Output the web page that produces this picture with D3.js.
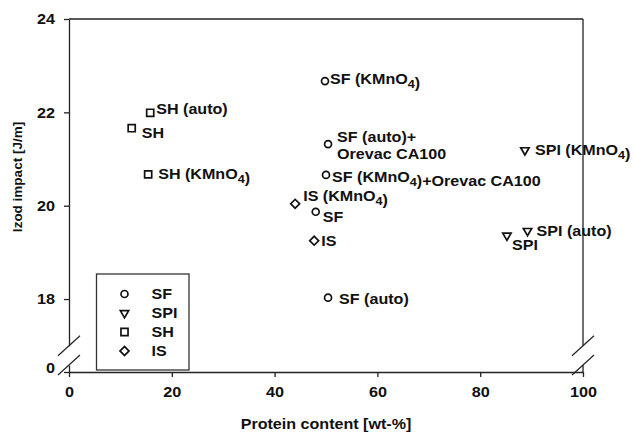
<!DOCTYPE html>
<html>
<head>
<meta charset="utf-8">
<script src="https://cdn.jsdelivr.net/npm/d3@7"></script>
<style>
  body { margin: 0; background: #fff; }
  text { font-family: "Liberation Sans", Arial, sans-serif; font-weight: bold; fill: #111; }
</style>
</head>
<body>
<svg id="chart" width="633" height="433"></svg>
<script>
// data
var sfLabels  = ["SF (KMnO4)", "SF (auto)+|Orevac CA100", "SF (KMnO4)+Orevac CA100", "SF", "SF (auto)"];
var sfProtein = [49.8, 50.4, 50.0, 48.0, 50.4];
var sfIzod    = [22.67, 21.32, 20.66, 19.87, 18.03];

var spiLabels  = ["SPI (KMnO4)", "SPI (auto)", "SPI"];
var spiProtein = [88.7, 89.2, 85.2];
var spiIzod    = [21.19, 19.46, 19.36];

var shLabels  = ["SH (auto)", "SH", "SH (KMnO4)"];
var shProtein = [15.8, 12.2, 15.4];
var shIzod    = [21.99, 21.66, 20.67];

var isLabels  = ["IS (KMnO4)", "IS"];
var isProtein = [44.0, 47.7];
var isIzod    = [20.04, 19.25];

var seriesNames = ["SF", "SPI", "SH", "IS"];
var xTicks = [0, 20, 40, 60, 80, 100];
var yTicks = [18, 20, 22, 24];

// label placement next to each marker (px), same order as the labels
var labelOffsets = {
  SF:  [[5, -2], [9, -7], [6, 2], [7, 5], [11, 1]],
  SPI: [[10, 0], [9, 0], [5, 10]],
  SH:  [[6, -4], [10, 5], [10, 0]],
  IS:  [[8, -8], [7, 0]]
};

var series = [
  {name: "SF",  labels: sfLabels,  x: sfProtein,  y: sfIzod,  shape: d3.symbolCircle,   size: 38, rot: 0},
  {name: "SPI", labels: spiLabels, x: spiProtein, y: spiIzod, shape: d3.symbolTriangle, size: 30, rot: 180},
  {name: "SH",  labels: shLabels,  x: shProtein,  y: shIzod,  shape: d3.symbolSquare,   size: 50, rot: 0},
  {name: "IS",  labels: isLabels,  x: isProtein,  y: isIzod,  shape: d3.symbolSquare,   size: 40, rot: 45}
];

var svg = d3.select("#chart");
var plotLeft = 69, plotRight = 583, plotTop = 19, axisY = 372, breakTop = 345.7, stubTop = 365;
var wide = 1.15;     // the original's lettering is a bit wider than Arial
var tickWide = 1.08;

var x = d3.scaleLinear().domain([0, 100]).range([plotLeft, plotRight]);
var y = d3.scaleLinear().domain([17, 24]).range([breakTop, plotTop]);
var yLow = d3.scaleLinear().domain([0, 1]).range([axisY, stubTop]);

function styleAxis(g) {
  g.selectAll("path, line").attr("stroke", "#222").attr("stroke-width", 1.3);
  g.selectAll("text").attr("fill", "#111").style("font-size", "15px")
    .style("font-family", "'Liberation Sans', Arial, sans-serif").style("font-weight", "bold")
    .attr("x", function() { return +d3.select(this).attr("x") / tickWide; })
    .attr("transform", "scale(" + tickWide + ",1)");
}

// x axis
svg.append("g")
    .attr("transform", "translate(0," + axisY + ")")
    .call(d3.axisBottom(x).tickValues(xTicks).tickFormat(d3.format("d"))
      .tickSize(5).tickSizeOuter(0).tickPadding(9))
    .call(styleAxis);

// upper y axis
svg.append("g")
    .attr("transform", "translate(" + plotLeft + ",0)")
    .call(d3.axisLeft(y).tickValues(yTicks).tickFormat(d3.format("d"))
      .tickSize(5).tickSizeOuter(0).tickPadding(9))
    .call(styleAxis);

// lower y stub with the 0 tick
svg.append("g")
    .attr("transform", "translate(" + plotLeft + ",0)")
    .call(d3.axisLeft(yLow).tickValues([0]).tickFormat(d3.format("d"))
      .tickSize(5).tickSizeOuter(0).tickPadding(9))
    .call(styleAxis)
    .selectAll("text").attr("dy", "0.05em");

// frame: top and right
svg.append("line").attr("x1", plotLeft).attr("x2", plotRight).attr("y1", plotTop).attr("y2", plotTop)
    .attr("stroke", "#222").attr("stroke-width", 1.3);
svg.append("line").attr("x1", plotRight).attr("x2", plotRight).attr("y1", plotTop).attr("y2", breakTop)
    .attr("stroke", "#222").attr("stroke-width", 1.3);
svg.append("line").attr("x1", plotRight).attr("x2", plotRight).attr("y1", stubTop).attr("y2", axisY)
    .attr("stroke", "#222").attr("stroke-width", 1.3);

// break marks
[plotLeft, plotRight].forEach(function(cx) {
  [breakTop, stubTop].forEach(function(cy) {
    svg.append("line")
        .attr("x1", cx - 11).attr("y1", cy + 10)
        .attr("x2", cx + 11).attr("y2", cy - 10)
        .attr("stroke", "#222").attr("stroke-width", 1.2);
  });
});

// writes text, turning the 4 in KMnO4 into a subscript
function richText(sel, str) {
  var parts = str.split(/(O4)/);
  parts.forEach(function(p) {
    if (p === "O4") {
      sel.append("tspan").text("O");
      sel.append("tspan").attr("dy", 4).style("font-size", "11px").text("4");
      sel.append("tspan").attr("dy", -4).text("");
    } else if (p) {
      sel.append("tspan").text(p);
    }
  });
}

function wideText(parent, tx, ty, size) {
  return parent.append("text")
      .attr("transform", "translate(" + tx + "," + ty + ") scale(" + wide + ",1)")
      .attr("dy", "0.35em")
      .style("font-size", size + "px");
}

// markers and labels
series.forEach(function(s) {
  var sym = d3.symbol().type(s.shape).size(s.size);
  var g = svg.append("g");
  s.x.forEach(function(v, i) {
    var px = x(v), py = y(s.y[i]);
    g.append("path")
        .attr("d", sym)
        .attr("transform", "translate(" + px + "," + py + ") rotate(" + s.rot + ")")
        .attr("fill", "none").attr("stroke", "#111").attr("stroke-width", 1.7);

    var off = labelOffsets[s.name][i];
    var lines = s.labels[i].split("|");
    lines.forEach(function(line, k) {
      richText(wideText(g, px + off[0], py + off[1] + k * 17, 14), line);
    });
  });
});

// legend
var legend = svg.append("g");
legend.append("rect")
    .attr("x", 96.5).attr("y", 274).attr("width", 92.5).attr("height", 96)
    .attr("fill", "#fff").attr("stroke", "#333").attr("stroke-width", 1.3);
series.forEach(function(s, i) {
  var ly = 294 + i * 19;
  legend.append("path")
      .attr("d", d3.symbol().type(s.shape).size(s.size))
      .attr("transform", "translate(124.5," + ly + ") rotate(" + s.rot + ")")
      .attr("fill", "none").attr("stroke", "#111").attr("stroke-width", 1.7);
  wideText(legend, 151.5, ly, 14).text(seriesNames[i]);
});

// axis titles
wideText(svg, 326, 424, 14)
    .attr("text-anchor", "middle")
    .text("Protein content [wt-%]");

svg.append("text")
    .attr("transform", "translate(17,177) rotate(-90)")
    .attr("dy", "0.35em")
    .attr("text-anchor", "middle")
    .style("font-size", "13.5px")
    .text("Izod impact [J/m]");
</script>
</body>
</html>
